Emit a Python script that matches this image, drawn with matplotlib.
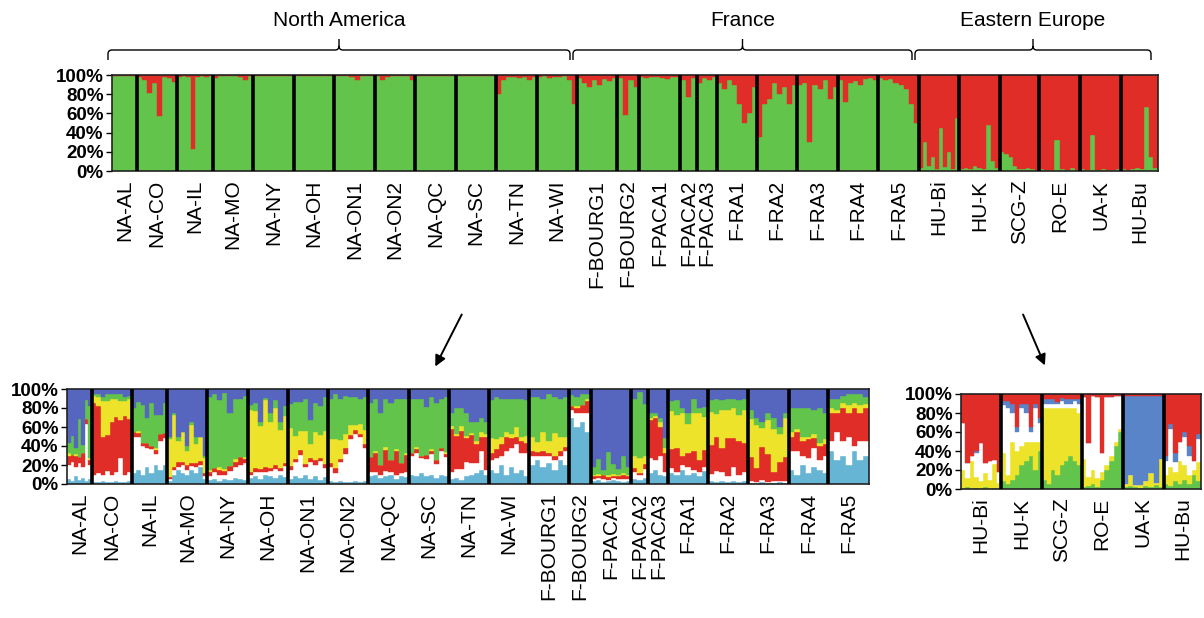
import numpy as np
import matplotlib
matplotlib.use("Agg")
import matplotlib.pyplot as plt
from matplotlib.path import Path
from matplotlib.patches import PathPatch, FancyArrowPatch
from matplotlib.transforms import blended_transform_factory

plt.rcParams['font.family'] = ['Liberation Sans', 'DejaVu Sans']

# population names / sample sizes (number of individuals)
na_pops = ["NA-AL", "NA-CO", "NA-IL", "NA-MO", "NA-NY", "NA-OH", "NA-ON1", "NA-ON2",
           "NA-QC", "NA-SC", "NA-TN", "NA-WI"]
fr_pops = ["F-BOURG1", "F-BOURG2", "F-PACA1", "F-PACA2", "F-PACA3", "F-RA1", "F-RA2",
           "F-RA3", "F-RA4", "F-RA5"]
ee_pops = ["HU-Bi", "HU-K", "SCG-Z", "RO-E", "UA-K", "HU-Bu"]
na_sizes = [25, 40, 36, 40, 41, 40, 41, 40, 41, 40, 41, 40]
fr_sizes = [40, 22, 41, 17, 20, 40, 40, 41, 40, 41]
ee_sizes = [40, 41, 39, 41, 41, 37]

# top panel (K=2): % assigned to the red cluster, rest is green
top_red = [
    [1, 1, 1, 1, 1, 1, 1],
    [2, 5, 19, 8, 43, 2, 3, 7],
    [2, 1, 2, 77, 2, 1, 2, 1],
    [3, 1, 1, 1, 1, 2, 5, 1],
    [1, 1, 1, 1, 1, 1, 1, 1],
    [1, 1, 1, 1, 1, 1, 1, 1],
    [1, 1, 1, 2, 5, 1, 1, 1],
    [1, 5, 2, 1, 1, 1, 1, 5],
    [1, 1, 1, 1, 1, 1, 1, 1],
    [1, 1, 1, 1, 1, 1, 1, 1],
    [20, 5, 2, 2, 3, 2, 5, 2],
    [2, 1, 3, 2, 2, 1, 5, 30],
    [3, 8, 12, 5, 10, 4, 6, 3],
    [3, 42, 5, 12],
    [2, 3, 2, 2, 3, 4, 2, 2],
    [5, 23, 3],
    [8, 3, 5, 2],
    [8, 15, 5, 10, 30, 50, 40, 12],
    [65, 30, 25, 8, 20, 12, 30, 10],
    [10, 8, 70, 10, 15, 5, 25, 12],
    [5, 28, 8, 6, 10, 4, 3, 5],
    [3, 5, 4, 8, 10, 15, 30, 50],
    [97, 70, 95, 85, 98, 55, 96, 80, 98, 45],
    [98, 97, 98, 95, 97, 98, 52, 90, 97],
    [80, 82, 85, 95, 98, 98, 97, 98, 99],
    [98, 99, 99, 68, 98, 99, 97, 99],
    [98, 99, 63, 99, 98, 99, 99, 98],
    [98, 99, 98, 97, 98, 33, 85, 97],
]

# bottom-left panel (NA + France): % per cluster, blue is the remainder
bl_cyan = [
    [5, 3, 8, 4, 6, 3, 5], [2, 2, 3, 2, 2, 3, 2, 2, 3], [12, 15, 10, 18, 12, 20, 15, 20],
    [3, 10, 15, 12, 10, 15, 12, 18, 5], [4, 5, 3, 5, 4, 6, 5, 4], [6, 8, 5, 10, 8, 6, 9, 7],
    [5, 8, 6, 10, 5, 8, 4, 7], [3, 2, 3, 2, 2, 3, 2, 3], [8, 10, 6, 8, 10, 5, 8, 7],
    [10, 8, 12, 8, 10, 6, 10, 8], [5, 6, 4, 8, 10, 12, 15, 10], [15, 12, 20, 10, 18, 12, 15, 8],
    [20, 25, 18, 22, 15, 25, 20], [70, 60, 65, 55], [3, 4, 2, 3, 4, 3, 2, 3], [5, 4, 6],
    [12, 15, 10, 8], [12, 10, 15, 10, 12, 8, 14], [3, 2, 3, 2, 3, 2, 3], [1, 1, 2, 1, 1, 2, 1],
    [15, 10, 20, 12, 18, 15, 12], [35, 25, 30, 20, 35, 25, 30],
]
bl_white = [
    [15, 20, 10, 18, 12, 60, 15], [8, 10, 6, 12, 8, 10, 25, 8, 10], [38, 35, 30, 20, 25, 12, 30, 28],
    [2, 5, 3, 8, 5, 4, 6, 2, 3], [4, 8, 6, 5, 10, 12, 15, 18], [4, 5, 8, 3, 6, 10, 5, 12],
    [10, 15, 25, 8, 18, 12, 20, 10], [15, 10, 20, 30, 45, 50, 48, 35], [5, 3, 4, 6, 3, 5, 4, 6],
    [20, 25, 15, 18, 22, 15, 25, 20], [8, 10, 12, 15, 12, 10, 20, 5], [10, 15, 10, 25, 20, 30, 18, 25],
    [10, 5, 12, 8, 10, 5, 15], [8, 15, 10, 20], [2, 2, 3, 1, 2, 2, 3, 2], [8, 5, 10],
    [15, 10, 20, 5], [5, 3, 5, 8, 3, 5, 4], [8, 12, 10, 6, 15, 8, 10], [2, 1, 2, 1, 2, 1, 2],
    [20, 25, 10, 15, 20, 10, 18], [10, 30, 15, 30, 5, 20, 15],
]
bl_red = [
    [10, 8, 12, 6, 15, 5, 5], [75, 70, 40, 38, 55, 58, 40, 62, 55], [5, 4, 3, 5, 3, 4, 8, 6],
    [2, 3, 5, 3, 5, 3, 4, 4, 4], [5, 4, 6, 4, 5, 5, 8, 4], [3, 4, 3, 5, 3, 4, 3, 3],
    [4, 3, 5, 3, 4, 5, 3, 4], [4, 5, 3, 6, 5, 4, 3, 4], [15, 20, 10, 22, 12, 25, 10, 18],
    [3, 4, 3, 5, 3, 4, 3, 4], [45, 35, 40, 25, 30, 20, 15, 35], [8, 10, 12, 15, 10, 8, 12, 10],
    [5, 4, 5, 3, 4, 5, 4], [4, 5, 8, 12], [3, 2, 4, 3, 2, 3, 4, 3], [4, 3, 5],
    [40, 45, 30, 20], [20, 25, 10, 15, 20, 12, 18], [30, 35, 25, 40, 30, 35, 30], [25, 15, 35, 30, 10, 20, 25],
    [15, 20, 15, 20, 10, 15, 12], [30, 20, 35, 25, 40, 30, 35],
]
bl_yellow = [
    [3, 0, 2, 0, 0, 0, 2], [8, 10, 38, 35, 25, 18, 20, 15, 22], [0, 2, 0, 0, 0, 2, 0, 0],
    [40, 55, 22, 32, 15, 40, 20, 26, 15], [2, 0, 3, 2, 0, 3, 0, 2], [65, 60, 45, 70, 48, 60, 40, 50],
    [40, 25, 20, 35, 15, 30, 25, 35], [25, 30, 20, 15, 10, 5, 10, 15], [0, 2, 0, 3, 0, 2, 0, 2],
    [0, 2, 0, 0, 2, 0, 0, 2], [3, 2, 5, 3, 2, 3, 5, 3], [15, 10, 8, 5, 5, 10, 5, 8],
    [15, 10, 20, 12, 25, 15, 10], [0, 2, 0, 3], [2, 3, 1, 2, 3, 2, 3, 2], [12, 15, 8],
    [3, 2, 5, 5], [40, 35, 45, 30, 40, 50, 35], [35, 25, 40, 30, 32, 28, 35], [40, 45, 20, 35, 45, 30, 42],
    [5, 3, 5, 2, 5, 3, 5], [5, 3, 5, 8, 5, 8, 4],
]
bl_green = [
    [10, 20, 6, 40, 8, 20, 55], [2, 3, 5, 8, 5, 6, 8, 5, 3], [25, 30, 40, 27, 45, 35, 20, 31],
    [3, 2, 5, 0, 5, 3, 8, 0, 3], [77, 78, 70, 80, 56, 64, 62, 65], [5, 8, 4, 3, 10, 8, 8, 10],
    [25, 35, 30, 34, 25, 30, 30, 36], [43, 48, 44, 40, 30, 30, 27, 35], [57, 55, 55, 51, 60, 53, 68, 57],
    [57, 51, 60, 50, 55, 60, 52, 58], [14, 27, 19, 24, 11, 20, 15, 12], [40, 45, 40, 35, 37, 30, 40, 37],
    [42, 48, 35, 50, 38, 40, 43], [12, 10, 12, 5], [8, 15, 5, 25, 10, 6, 18, 8], [60, 70, 55],
    [5, 3, 5, 10], [10, 15, 5, 12, 15, 5, 10], [12, 16, 10, 12, 10, 15, 12], [10, 8, 6, 8, 12, 7, 5],
    [25, 22, 30, 31, 25, 37, 28], [10, 12, 8, 12, 10, 12, 8],
]

# bottom-right panel (Eastern Europe): % per cluster, red is the remainder
br_green = [[0, 2, 0, 1, 0, 2, 0, 1, 0], [8, 5, 10, 15, 25, 30, 35, 20, 40],
            [10, 5, 20, 15, 25, 30, 35, 30, 25], [2, 3, 5, 2, 10, 20, 30, 45, 60],
            [2, 3, 2, 1, 3, 2, 4, 2], [5, 3, 8, 5, 10, 5, 15, 8]]
br_yellow = [[20, 10, 30, 12, 8, 15, 10, 25, 6], [30, 10, 40, 25, 20, 20, 15, 30, 10],
             [75, 80, 65, 70, 60, 55, 50, 55, 55], [30, 10, 15, 10, 8, 5, 5, 5, 3],
             [3, 12, 2, 3, 5, 15, 2, 30], [10, 20, 10, 25, 15, 10, 5, 20]]
br_white = [[50, 15, 5, 25, 40, 10, 20, 5, 12], [50, 70, 30, 20, 40, 30, 10, 35, 20],
            [5, 5, 5, 5, 8, 5, 5, 8, 10], [65, 35, 78, 85, 20, 72, 62, 48, 35],
            [0, 0, 0, 0, 0, 0, 0, 0], [15, 40, 10, 20, 30, 20, 10, 25]]
br_blue = [[0, 0, 0, 2, 0, 0, 0, 0, 0], [5, 8, 10, 5, 5, 10, 5, 5, 5],
           [5, 5, 5, 2, 3, 5, 5, 2, 5], [0, 0, 0, 0, 0, 0, 0, 0, 0],
           [93, 83, 94, 94, 90, 81, 92, 66], [5, 5, 10, 0, 5, 10, 0, 5]]

GREEN = "#62c44a"
RED = "#e02d27"
YELLOW = "#ede32a"
CYAN = "#66b5d4"
BLUE_L = "#5666be"
BLUE_R = "#5a84c8"


def draw_panel(ax, names, sizes, layers, colors, fs_lab):
    """layers: list of (per-pop lists) stacked from the bottom; last colour fills to 100"""
    bounds = np.concatenate([[0], np.cumsum(sizes)])
    for p in range(len(names)):
        nb = len(layers[0][p])
        w = sizes[p] / nb
        xs = bounds[p] + w * (np.arange(nb) + 0.5)
        bottom = np.zeros(nb)
        for layer, col in zip(layers, colors[:-1]):
            v = np.array(layer[p], dtype=float)
            ax.bar(xs, v, w, bottom=bottom, color=col, edgecolor=col, linewidth=0.3)
            bottom += v
        ax.bar(xs, 100 - bottom, w, bottom=bottom, color=colors[-1],
               edgecolor=colors[-1], linewidth=0.3)
    ax.vlines(bounds[1:-1], 0, 100, color="black", lw=2.6, zorder=5)
    ax.set_xlim(0, bounds[-1])
    ax.set_ylim(0, 100)
    ax.set_xticks([])
    ax.set_yticks(range(0, 101, 20))
    ax.set_yticklabels(["%d%%" % t for t in range(0, 101, 20)], fontsize=13.5, fontweight="bold")
    ax.tick_params(axis="y", length=4, width=1, pad=2)
    for s in ax.spines.values():
        s.set_linewidth(1.2)
        s.set_color("#222222")
    tr = blended_transform_factory(ax.transData, ax.transAxes)
    for p, nm in enumerate(names):
        ax.text((bounds[p] + bounds[p + 1]) / 2, -0.09, nm, rotation=90, ha="center",
                va="top", fontsize=fs_lab, transform=tr)
    return bounds


fig = plt.figure(figsize=(12.04, 6.18), dpi=100)
W, H = 1204, 618


def px_axes(x0, y0, x1, y1):
    return fig.add_axes([x0 / W, 1 - y1 / H, (x1 - x0) / W, (y1 - y0) / H])


ax_top = px_axes(112, 75, 1158, 171)
ax_bl = px_axes(67, 389, 869, 484)
ax_br = px_axes(961, 394, 1201, 489)

all_pops = na_pops + fr_pops + ee_pops
all_sizes = na_sizes + fr_sizes + ee_sizes
top_b = draw_panel(ax_top, all_pops, all_sizes, [[[100 - r for r in p] for p in top_red]],
                   [GREEN, RED], 15)
draw_panel(ax_bl, na_pops + fr_pops, na_sizes + fr_sizes,
           [bl_cyan, bl_white, bl_red, bl_yellow, bl_green],
           [CYAN, "white", RED, YELLOW, GREEN, BLUE_L], 15)
draw_panel(ax_br, ee_pops, ee_sizes, [br_green, br_yellow, br_white, br_blue],
           [GREEN, YELLOW, "white", BLUE_R, RED], 15)

# overlay in pixel coordinates for braces and arrows
ov = fig.add_axes([0, 0, 1, 1], zorder=10)
ov.set_xlim(0, W)
ov.set_ylim(H, 0)
ov.axis("off")
ov.patch.set_alpha(0)


def to_px(b):
    return ax_top.transData.transform((b, 0))[0] * W / fig.bbox.width


groups = [("North America", 0, len(na_pops)),
          ("France", len(na_pops), len(na_pops) + len(fr_pops)),
          ("Eastern Europe", len(na_pops) + len(fr_pops), len(all_pops))]
yl, ye, yt, r = 50, 60, 39, 4
for lab, i0, i1 in groups:
    x0 = to_px(top_b[i0]) - 4
    x1 = to_px(top_b[i1]) - 7
    xc = (x0 + x1) / 2
    verts = [(x0, ye), (x0, yl + r), (x0, yl), (x0 + r, yl), (xc - r, yl), (xc, yl), (xc, yl - r),
             (xc, yt),
             (xc, yl - r), (xc, yl), (xc + r, yl), (x1 - r, yl), (x1, yl), (x1, yl + r), (x1, ye)]
    codes = [Path.MOVETO, Path.LINETO, Path.CURVE3, Path.CURVE3, Path.LINETO, Path.CURVE3,
             Path.CURVE3, Path.LINETO,
             Path.MOVETO, Path.CURVE3, Path.CURVE3, Path.LINETO, Path.CURVE3, Path.CURVE3,
             Path.LINETO]
    ov.add_patch(PathPatch(Path(verts, codes), fill=False, lw=1.0, color="black"))
    ov.text(xc, 20, lab, ha="center", va="center", fontsize=15)

for (xa, ya), (xb, yb) in [((463, 312), (434, 369)), ((1022, 312), (1046, 368))]:
    ov.add_patch(FancyArrowPatch((xa, ya), (xb, yb), arrowstyle="-|>", mutation_scale=16,
                                 lw=1.4, color="black"))

fig.savefig("out.png", dpi=100)
